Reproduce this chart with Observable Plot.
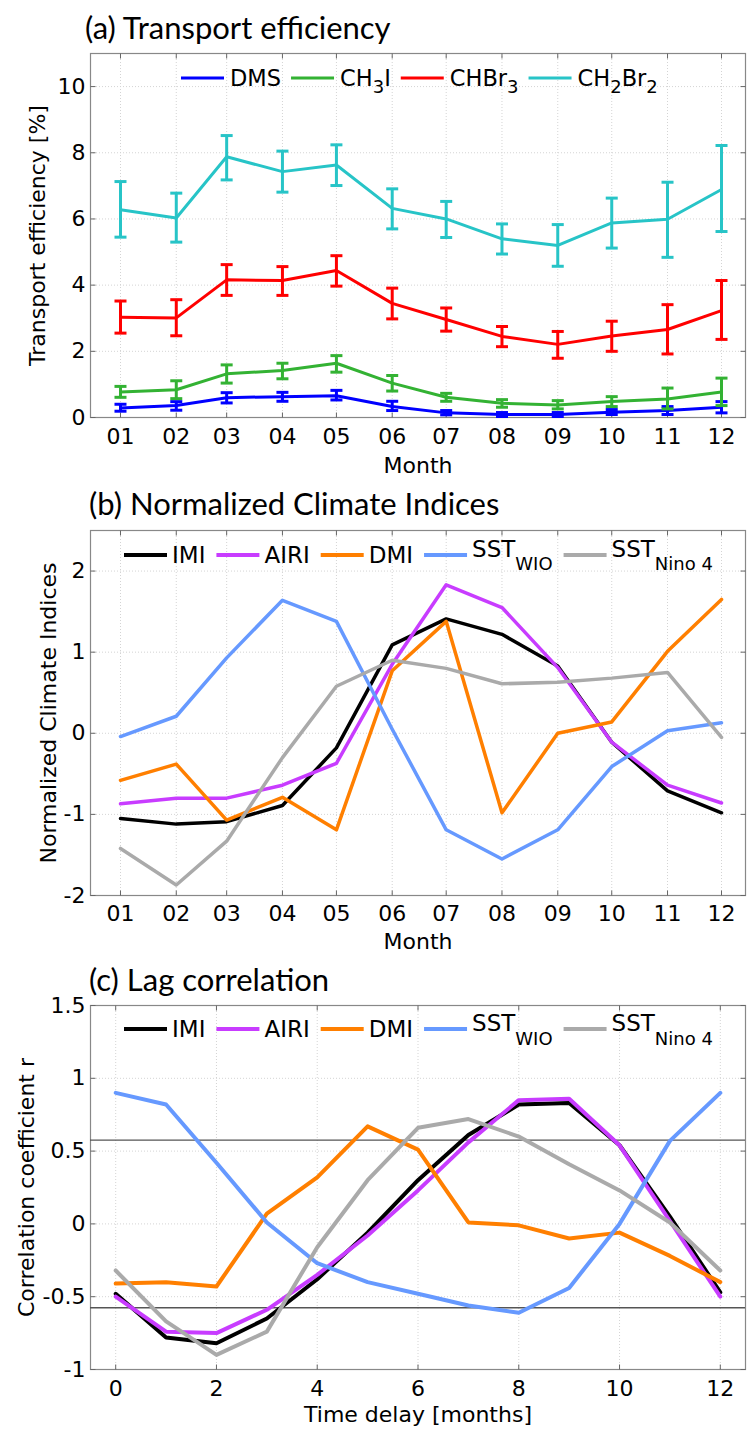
<!DOCTYPE html>
<html><head><meta charset="utf-8">
<script src="https://cdn.jsdelivr.net/npm/d3@7"></script>
<script src="https://cdn.jsdelivr.net/npm/@observablehq/plot@0.6"></script>
<style>
body{margin:0;background:#fff;}
#fig{position:relative;width:747px;height:1430px;overflow:hidden;background:#fff;}
.title{position:absolute;font-family:Lato,"Open Sans",sans-serif;font-size:31px;line-height:31px;white-space:nowrap;color:#000;}
.panel{position:absolute;left:0;}
</style></head><body><div id="fig"></div>
<script>
// ---------- Panel (a) data: transport efficiency [%] ----------
const months = ["01","02","03","04","05","06","07","08","09","10","11","12"];
const dmsMean   = [0.29,0.36,0.60,0.63,0.66,0.33,0.14,0.09,0.09,0.16,0.21,0.31];
const dmsHigh   = [0.40,0.48,0.75,0.76,0.82,0.49,0.21,0.15,0.15,0.24,0.33,0.48];
const dmsLow    = [0.19,0.22,0.44,0.49,0.53,0.21,0.08,0.03,0.03,0.09,0.09,0.14];
const ch3iMean  = [0.77,0.84,1.32,1.42,1.64,1.04,0.61,0.43,0.38,0.48,0.56,0.77];
const ch3iHigh  = [0.94,1.11,1.59,1.64,1.87,1.27,0.73,0.54,0.51,0.63,0.89,1.19];
const ch3iLow   = [0.61,0.57,1.04,1.17,1.37,0.80,0.49,0.31,0.26,0.33,0.26,0.36];
const chbr3Mean = [3.03,3.01,4.16,4.14,4.44,3.45,2.96,2.45,2.21,2.46,2.66,3.23];
const chbr3High = [3.52,3.56,4.62,4.56,4.89,3.91,3.31,2.75,2.60,2.91,3.41,4.14];
const chbr3Low  = [2.55,2.47,3.69,3.69,3.97,2.98,2.61,2.14,1.79,2.00,1.92,2.36];
const ch2br2Mean= [6.28,6.03,7.88,7.43,7.63,6.32,6.00,5.40,5.20,5.88,5.99,6.89];
const ch2br2High= [7.13,6.78,8.52,8.05,8.24,6.91,6.53,5.85,5.83,6.63,7.11,8.22];
const ch2br2Low = [5.45,5.30,7.18,6.81,7.01,5.70,5.44,4.94,4.57,5.12,4.84,5.62];
const yTicksA = [0,2,4,6,8,10];

// ---------- Panel (b) data: normalized climate indices ----------
const imiB    = [-1.05,-1.12,-1.09,-0.89,-0.18,1.09,1.41,1.22,0.83,-0.11,-0.71,-0.98];
const airiB   = [-0.87,-0.80,-0.80,-0.64,-0.37,0.85,1.83,1.55,0.81,-0.11,-0.64,-0.86];
const dmiB    = [-0.58,-0.38,-1.07,-0.79,-1.19,0.77,1.38,-0.98,0.00,0.14,1.01,1.65];
const sstWioB = [-0.04,0.21,0.93,1.64,1.38,0.05,-1.19,-1.55,-1.19,-0.41,0.03,0.13];
const sstNinoB= [-1.42,-1.87,-1.33,-0.30,0.58,0.90,0.80,0.61,0.63,0.68,0.75,-0.05];
const yTicksB = [-2,-1,0,1,2];

// ---------- Panel (c) data: lag correlation ----------
const lags     = [0,1,2,3,4,5,6,7,8,9,10,11,12];
const imiC     = [-0.48,-0.78,-0.82,-0.65,-0.38,-0.06,0.30,0.61,0.82,0.83,0.54,0.05,-0.47];
const airiC    = [-0.50,-0.74,-0.75,-0.59,-0.35,-0.08,0.23,0.56,0.85,0.86,0.54,0.02,-0.50];
const dmiC     = [-0.41,-0.40,-0.43,0.07,0.32,0.67,0.51,0.01,-0.01,-0.10,-0.06,-0.22,-0.40];
const sstWioC  = [0.90,0.82,0.42,0.01,-0.27,-0.40,-0.48,-0.56,-0.61,-0.44,0.00,0.57,0.90];
const sstNinoC = [-0.32,-0.67,-0.90,-0.74,-0.16,0.30,0.66,0.72,0.60,0.41,0.23,0.01,-0.32];
const sigLevels = [0.576,-0.576];
const xTicksC = [0,2,4,6,8,10,12];
const yTicksC = [-1,-0.5,0,0.5,1,1.5];

// ---------- Styles ----------
const colA = {DMS:"#0000ff", CH3I:"#33b233", CHBr3:"#ff0000", CH2Br2:"#27c4c7"};
const colB = {IMI:"#000000", AIRI:"#c83cff", DMI:"#ff7f00", WIO:"#6699ff", NINO:"#aaaaaa"};
const FONT = "DejaVu Sans";
const gridColor = "#d4d4d4", frameColor = "#888888";

const monthDates = months.map((m, i) => new Date(Date.UTC(2001, i, 1)));
const monthFmt = d => months[d.getUTCMonth()];
const numFmt = d => String(d);

// custom symbols: horizontal & vertical bars (error-bar caps, inward ticks)
const hbar = {draw(ctx, size){ const r = Math.sqrt(size/Math.PI); ctx.moveTo(-r,0); ctx.lineTo(r,0); }};
const vbar = {draw(ctx, size){ const r = Math.sqrt(size/Math.PI); ctx.moveTo(0,-r); ctx.lineTo(0,r); }};

function frameMarks(xTicks, yTicks) {
  const acc = d => d;
  return [
    Plot.ruleX(xTicks, {x: acc, stroke: gridColor, strokeDasharray: "1,2", strokeWidth: 1}),
    Plot.ruleY(yTicks, {y: acc, stroke: gridColor, strokeDasharray: "1,2", strokeWidth: 1}),
    Plot.frame({stroke: frameColor, strokeWidth: 1.2}),
    Plot.dot(xTicks, {x: acc, frameAnchor: "bottom", symbol: vbar, r: 2.5, dy: -2.5, stroke: "#666", fill: "none", strokeWidth: 1}),
    Plot.dot(xTicks, {x: acc, frameAnchor: "top", symbol: vbar, r: 2.5, dy: 2.5, stroke: "#666", fill: "none", strokeWidth: 1}),
    Plot.dot(yTicks, {y: acc, frameAnchor: "left", symbol: hbar, r: 2.5, dx: 2.5, stroke: "#666", fill: "none", strokeWidth: 1}),
    Plot.dot(yTicks, {y: acc, frameAnchor: "right", symbol: hbar, r: 2.5, dx: -2.5, stroke: "#666", fill: "none", strokeWidth: 1})
  ];
}
function axisLabels(yLabel, yDx, xLabel, xDy) {
  return [
    Plot.text([yLabel], {frameAnchor: "left", text: d => d, rotate: -90, dx: yDx, fontSize: 22, fill: "black", textAnchor: "middle", lineAnchor: "middle"}),
    Plot.text([xLabel], {frameAnchor: "bottom", text: d => d, dy: xDy, fontSize: 22, fill: "black", textAnchor: "middle", lineAnchor: "middle"})
  ];
}

function addLegend(svg, entries, o) {
  const g = d3.select(svg).append("g").attr("font-family", FONT).attr("fill", "black").attr("text-anchor", "start");
  let x = o.x0;
  for (const e of entries) {
    g.append("line").attr("x1", x).attr("x2", x + o.lineLen).attr("y1", o.lineY).attr("y2", o.lineY)
      .attr("stroke", e.color).attr("stroke-width", o.lineWidth);
    x += o.lineLen + o.gapLine;
    const t = g.append("text").attr("x", x).attr("text-anchor", "start");
    for (const [s, isSub] of e.parts) {
      t.append("tspan").attr("y", isSub ? o.sub : (e.raised ? o.raised : o.base))
        .attr("font-size", isSub ? o.subSize : o.size).text(s);
    }
    x += t.node().getComputedTextLength() + o.gapText;
  }
}

const fig = document.getElementById("fig");
function addTitle(text, left, top) {
  const d = document.createElement("div");
  d.className = "title"; d.textContent = text;
  d.style.left = left + "px"; d.style.top = top + "px";
  fig.appendChild(d);
}
function place(svg, top) {
  const w = document.createElement("div");
  w.className = "panel"; w.style.top = top + "px";
  w.appendChild(svg); fig.appendChild(w);
  return svg;
}
const baseStyle = {fontFamily: FONT, fontSize: "22px", color: "black", background: "transparent", overflow: "visible"};
const monthDomain = [new Date(Date.UTC(2000,11,15,8)), new Date(Date.UTC(2001,11,14,8))];

// ================= Panel (a) =================
addTitle("(a) Transport efficiency", 85, 12);
const seriesA = [
  {key: "DMS", mean: dmsMean, hi: dmsHigh, lo: dmsLow},
  {key: "CH3I", mean: ch3iMean, hi: ch3iHigh, lo: ch3iLow},
  {key: "CHBr3", mean: chbr3Mean, hi: chbr3High, lo: chbr3Low},
  {key: "CH2Br2", mean: ch2br2Mean, hi: ch2br2High, lo: ch2br2Low}
];
const marksA = [...frameMarks(monthDates, yTicksA)];
for (const s of seriesA) {
  const rows = months.map((m, i) => ({x: monthDates[i], y: s.mean[i], lo: s.lo[i], hi: s.hi[i]}));
  const c = colA[s.key];
  marksA.push(
    Plot.line(rows, {x: "x", y: "y", stroke: c, strokeWidth: 3}),
    Plot.ruleX(rows, {x: "x", y1: "lo", y2: "hi", stroke: c, strokeWidth: 3}),
    Plot.dot(rows, {x: "x", y: "hi", symbol: hbar, r: 6, stroke: c, fill: "none", strokeWidth: 3}),
    Plot.dot(rows, {x: "x", y: "lo", symbol: hbar, r: 6, stroke: c, fill: "none", strokeWidth: 3})
  );
}
marksA.push(...axisLabels("Transport efficiency [%]", -53, "Month", 48));
const plotA = place(Plot.plot({
  width: 747, height: 435, marginLeft: 90, marginRight: 2, marginTop: 8, marginBottom: 63,
  style: baseStyle,
  x: {type: "utc", domain: monthDomain, ticks: monthDates, tickFormat: monthFmt, tickSize: 0, tickPadding: 11, label: null},
  y: {domain: [0, 11], ticks: yTicksA, tickFormat: numFmt, tickSize: 0, tickPadding: 5, label: null},
  marks: marksA
}), 45);
addLegend(plotA, [
  {color: colA.DMS, parts: [["DMS",0]]},
  {color: colA.CH3I, parts: [["CH",0],["3",1],["I",0]]},
  {color: colA.CHBr3, parts: [["CHBr",0],["3",1]]},
  {color: colA.CH2Br2, parts: [["CH",0],["2",1],["Br",0],["2",1]]}
], {x0: 181, lineY: 33, base: 41, raised: 41, sub: 48, size: 22.5, subSize: 18, lineLen: 43, gapLine: 6, gapText: 10, lineWidth: 3});

// ================= Panel (b) =================
addTitle("(b) Normalized Climate Indices", 89, 488);
const seriesB = [
  {vals: imiB, color: colB.IMI}, {vals: airiB, color: colB.AIRI}, {vals: dmiB, color: colB.DMI},
  {vals: sstWioB, color: colB.WIO}, {vals: sstNinoB, color: colB.NINO}
];
const marksB = [...frameMarks(monthDates, yTicksB)];
for (const s of seriesB) {
  const rows = months.map((m, i) => ({x: monthDates[i], y: s.vals[i]}));
  marksB.push(Plot.line(rows, {x: "x", y: "y", stroke: s.color, strokeWidth: 3.5}));
}
marksB.push(...axisLabels("Normalized Climate Indices", -42, "Month", 46));
const plotB = place(Plot.plot({
  width: 747, height: 433, marginLeft: 90, marginRight: 2, marginTop: 8, marginBottom: 60,
  style: baseStyle,
  x: {type: "utc", domain: monthDomain, ticks: monthDates, tickFormat: monthFmt, tickSize: 0, tickPadding: 10, label: null},
  y: {domain: [-2, 2.5], ticks: yTicksB, tickFormat: numFmt, tickSize: 0, tickPadding: 5, label: null},
  marks: marksB
}), 522);
const legendB = [
  {color: colB.IMI, parts: [["IMI",0]]},
  {color: colB.AIRI, parts: [["AIRI",0]]},
  {color: colB.DMI, parts: [["DMI",0]]},
  {color: colB.WIO, raised: true, parts: [["SST",0],["WIO",1]]},
  {color: colB.NINO, raised: true, parts: [["SST",0],["Nino 4",1]]}
];
addLegend(plotB, legendB, {x0: 124, lineY: 33, base: 41, raised: 35, sub: 48, size: 23, subSize: 18, lineLen: 43, gapLine: 5, gapText: 11, lineWidth: 4});

// ================= Panel (c) =================
addTitle("(c) Lag correlation", 89, 964);
const seriesC = [
  {vals: imiC, color: colB.IMI}, {vals: airiC, color: colB.AIRI}, {vals: dmiC, color: colB.DMI},
  {vals: sstWioC, color: colB.WIO}, {vals: sstNinoC, color: colB.NINO}
];
const marksC = [...frameMarks(xTicksC, yTicksC)];
marksC.push(Plot.ruleY(sigLevels, {y: d => d, stroke: "#555", strokeWidth: 1.3}));
for (const s of seriesC) {
  const rows = lags.map((l, i) => ({x: l, y: s.vals[i]}));
  marksC.push(Plot.line(rows, {x: "x", y: "y", stroke: s.color, strokeWidth: 4}));
}
marksC.push(...axisLabels("Correlation coefficient r", -64, "Time delay [months]", 45));
const plotC = place(Plot.plot({
  width: 747, height: 433, marginLeft: 90, marginRight: 2, marginTop: 8, marginBottom: 61,
  style: baseStyle,
  x: {domain: [-0.5, 12.5], ticks: xTicksC, tickFormat: numFmt, tickSize: 0, tickPadding: 11, label: null},
  y: {domain: [-1, 1.5], ticks: yTicksC, tickFormat: numFmt, tickSize: 0, tickPadding: 5, label: null},
  marks: marksC
}), 997);
addLegend(plotC, legendB, {x0: 124, lineY: 32, base: 40, raised: 34, sub: 48, size: 23, subSize: 18, lineLen: 43, gapLine: 5, gapText: 11, lineWidth: 4});
</script></body></html>
